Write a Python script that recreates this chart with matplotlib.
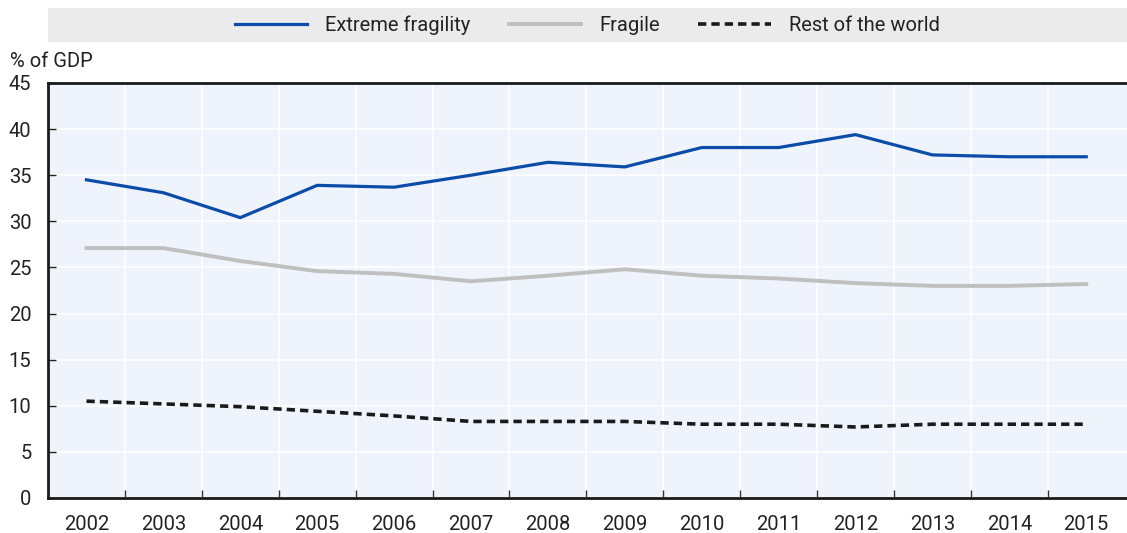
import numpy as np
import matplotlib.pyplot as plt
from matplotlib.patches import Rectangle

plt.rcParams['font.family'] = ['Liberation Sans Narrow', 'Roboto', 'DejaVu Sans']

# Data (% of GDP)
years = ['2002', '2003', '2004', '2005', '2006', '2007', '2008',
         '2009', '2010', '2011', '2012', '2013', '2014', '2015']
extreme = [34.5, 33.1, 30.4, 33.9, 33.7, 35.0, 36.4, 35.9, 38.0, 38.0, 39.4, 37.2, 37.0, 37.0]
fragile = [27.1, 27.1, 25.7, 24.6, 24.3, 23.5, 24.1, 24.8, 24.1, 23.8, 23.3, 23.0, 23.0, 23.2]
rest = [10.5, 10.2, 9.9, 9.4, 8.9, 8.3, 8.3, 8.3, 8.0, 8.0, 7.7, 8.0, 8.0, 8.0]

x = np.arange(len(years))

fig = plt.figure(figsize=(11.27, 5.33), dpi=100)
ax = fig.add_axes([0.0426, 0.0657, 0.9574, 0.7786])
ax.set_facecolor('#eff3fb')

ax.plot(x, extreme, color='#0b4ca8', lw=2.3, label='Extreme fragility', zorder=3)
ax.plot(x, fragile, color='#bfbfbf', lw=2.8, label='Fragile', zorder=3)
ax.plot(x, rest, color='#1a1a1a', lw=2.6, dashes=(2.3, 1.4), label='Rest of the world', zorder=3)

ax.set_xlim(-0.5, len(years) - 0.47)
ax.set_ylim(0, 45)
ax.set_yticks(np.arange(0, 46, 5))
ax.set_xticks(x)
ax.set_xticklabels(years)
ax.set_xticks(x[:-1] + 0.5, minor=True)

# white grid
ax.grid(axis='y', color='white', lw=1.2, zorder=1)
ax.grid(axis='x', which='minor', color='white', lw=1.2, zorder=1)
ax.set_axisbelow(True)

ax.tick_params(axis='x', which='major', length=0, labelsize=14.5, pad=12, colors='#222222')
ax.tick_params(axis='x', which='minor', direction='in', length=6, width=1, color='#333333')
ax.tick_params(axis='y', direction='in', length=6, width=1, labelsize=14.5, pad=12,
               colors='#222222')

for side in ['left', 'bottom', 'top']:
    ax.spines[side].set_linewidth(2)
    ax.spines[side].set_color('#1a1a1a')
ax.spines['right'].set_visible(False)

fig.text(0.009, 0.885, '% of GDP', fontsize=14.5, color='#222222', ha='left', va='center')

# legend band
fig.patches.append(Rectangle((0.0426, 0.921), 0.96, 0.064, transform=fig.transFigure,
                             facecolor='#ebebeb', edgecolor='none', zorder=0))
fig.legend(loc='center', bbox_to_anchor=(0.521, 0.953), ncol=3, frameon=False,
           fontsize=14.5, handlelength=3.6, handletextpad=0.9, columnspacing=1.9,
           labelcolor='#222222')

fig.savefig('out.png', dpi=100)
